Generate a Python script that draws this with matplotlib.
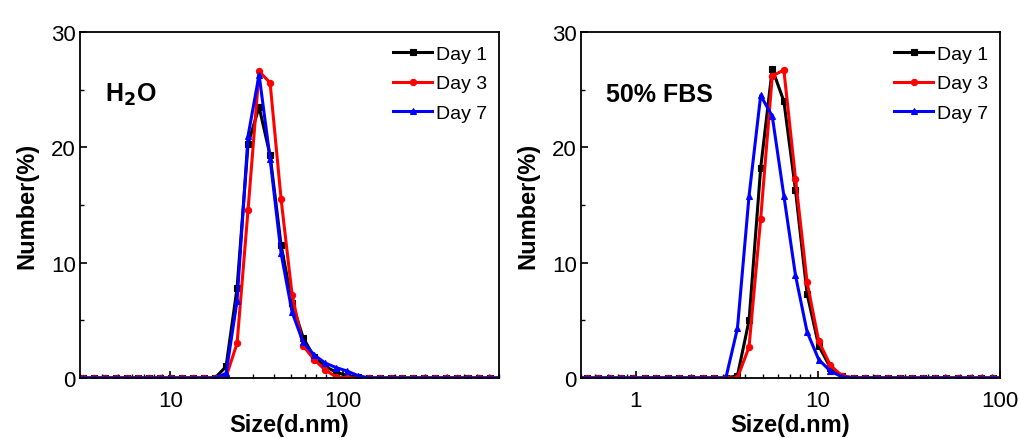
import matplotlib
matplotlib.use("Agg")
import matplotlib.pyplot as plt
from matplotlib.ticker import FixedLocator, NullFormatter, LogLocator

plt.rcParams['font.family'] = ['Liberation Sans', 'DejaVu Sans']

# Malvern size bins (d.nm)
sizes = [0.4, 0.4632, 0.5365, 0.6213, 0.7195, 0.8332, 0.9649, 1.117, 1.294, 1.499,
         1.736, 2.01, 2.328, 2.696, 3.122, 3.615, 4.187, 4.849, 5.615, 6.503,
         7.531, 8.721, 10.1, 11.7, 13.54, 15.69, 18.17, 21.04, 24.36, 28.21,
         32.67, 37.84, 43.82, 50.75, 58.77, 68.06, 78.82, 91.28, 105.7, 122.4,
         141.8, 164.2, 190.1, 220.2, 255.0, 295.3, 342.0, 396.1, 458.7, 531.2,
         615.1, 712.4, 825.0, 955.4, 1106, 1281, 1484, 1718, 1990, 2305,
         2669, 3091, 3580, 4145, 4801, 5560, 6439, 7456, 8635, 10000]

# H2O panel
h2o_day1 = [0, 0, 0, 0, 0, 0, 0, 0, 0, 0,
            0, 0, 0, 0, 0, 0, 0, 0, 0, 0,
            0, 0, 0, 0, 0, 0, 0, 1.0, 7.8, 20.3,
            23.5, 19.3, 11.5, 6.5, 3.5, 1.8, 1.0, 0.5, 0.2, 0.1,
            0, 0, 0, 0, 0, 0, 0, 0, 0, 0,
            0, 0, 0, 0, 0, 0, 0, 0, 0, 0,
            0, 0, 0, 0, 0, 0, 0, 0, 0, 0]
h2o_day3 = [0, 0, 0, 0, 0, 0, 0, 0, 0, 0,
            0, 0, 0, 0, 0, 0, 0, 0, 0, 0,
            0, 0, 0, 0, 0, 0, 0, 0.1, 3.0, 14.6,
            26.6, 25.6, 15.5, 7.2, 2.8, 1.6, 0.7, 0.1, 0, 0,
            0, 0, 0, 0, 0, 0, 0, 0, 0, 0,
            0, 0, 0, 0, 0, 0, 0, 0, 0, 0,
            0, 0, 0, 0, 0, 0, 0, 0, 0, 0]
h2o_day7 = [0, 0, 0, 0, 0, 0, 0, 0, 0, 0,
            0, 0, 0, 0, 0, 0, 0, 0, 0, 0,
            0, 0, 0, 0, 0, 0, 0, 0.4, 6.7, 21.0,
            26.3, 19.0, 10.8, 5.7, 3.1, 2.0, 1.3, 0.9, 0.6, 0.2,
            0, 0, 0, 0, 0, 0, 0, 0, 0, 0,
            0, 0, 0, 0, 0, 0, 0, 0, 0, 0,
            0, 0, 0, 0, 0, 0, 0, 0, 0, 0]

# 50% FBS panel
fbs_day1 = [0, 0, 0, 0, 0, 0, 0, 0, 0, 0,
            0, 0, 0, 0, 0, 0.2, 5.0, 18.2, 26.8, 24.0,
            16.3, 7.3, 2.8, 0.9, 0.2, 0, 0, 0, 0, 0,
            0, 0, 0, 0, 0, 0, 0, 0, 0, 0,
            0, 0, 0, 0, 0, 0, 0, 0, 0, 0,
            0, 0, 0, 0, 0, 0, 0, 0, 0, 0,
            0, 0, 0, 0, 0, 0, 0, 0, 0, 0]
fbs_day3 = [0, 0, 0, 0, 0, 0, 0, 0, 0, 0,
            0, 0, 0, 0, 0, 0, 2.7, 13.8, 26.2, 26.7,
            17.3, 8.3, 3.2, 1.1, 0.2, 0, 0, 0, 0, 0,
            0, 0, 0, 0, 0, 0, 0, 0, 0, 0,
            0, 0, 0, 0, 0, 0, 0, 0, 0, 0,
            0, 0, 0, 0, 0, 0, 0, 0, 0, 0,
            0, 0, 0, 0, 0, 0, 0, 0, 0, 0]
fbs_day7 = [0, 0, 0, 0, 0, 0, 0, 0, 0, 0,
            0, 0, 0, 0, 0, 4.3, 15.8, 24.5, 22.7, 15.8,
            8.9, 4.0, 1.6, 0.6, 0.1, 0, 0, 0, 0, 0,
            0, 0, 0, 0, 0, 0, 0, 0, 0, 0,
            0, 0, 0, 0, 0, 0, 0, 0, 0, 0,
            0, 0, 0, 0, 0, 0, 0, 0, 0, 0,
            0, 0, 0, 0, 0, 0, 0, 0, 0, 0]

labels = ["Day 1", "Day 3", "Day 7"]
colors = ["#000000", "#ff0000", "#0000ff"]
markers = ["s", "o", "^"]

fig = plt.figure(figsize=(10.2, 4.39), dpi=100)
ax1 = fig.add_axes([0.0784, 0.1367, 0.4108, 0.788])
ax2 = fig.add_axes([0.5696, 0.1367, 0.4108, 0.788])

panels = [
    (ax1, [h2o_day1, h2o_day3, h2o_day7], (3.0, 800), "H$_\\mathbf{2}$O", [10, 100], ["10", "100"]),
    (ax2, [fbs_day1, fbs_day3, fbs_day7], (0.5, 100), "50% FBS", [1, 10, 100], ["1", "10", "100"]),
]

for ax, series, xlim, title, xt, xtl in panels:
    for vals, lab, c, m in zip(series, labels, colors, markers):
        ax.plot(sizes, vals, color=c, marker=m, markersize=4.5, linewidth=2.2,
                label=lab, markeredgewidth=0.8)
    ax.set_xscale('log')
    ax.set_xlim(*xlim)
    ax.set_ylim(0, 30)
    ax.xaxis.set_major_locator(FixedLocator(xt))
    ax.set_xticklabels(xtl)
    ax.xaxis.set_minor_locator(LogLocator(base=10, subs=range(2, 10)))
    ax.xaxis.set_minor_formatter(NullFormatter())
    ax.set_yticks([0, 10, 20, 30])
    ax.set_yticks([5, 15, 25], minor=True)
    ax.tick_params(axis='x', which='major', pad=9)
    ax.tick_params(axis='y', which='major', pad=3)
    ax.tick_params(which='major', direction='in', length=5, width=1.2,
                   labelsize=16, top=False, right=False)
    ax.tick_params(which='minor', direction='in', length=3, width=1.0,
                   top=False, right=False)
    for sp in ax.spines.values():
        sp.set_linewidth(1.3)
    ax.set_xlabel("Size(d.nm)", fontsize=17, fontweight='bold', labelpad=1)
    ax.set_ylabel("Number(%)", fontsize=17, fontweight='bold', labelpad=9)
    ax.text(0.06, 0.82, title, transform=ax.transAxes, fontsize=18,
            fontweight='bold', ha='left', va='center')
    ax.legend(loc='upper right', frameon=False, fontsize=14, handlelength=2.0,
              handletextpad=0.2, labelspacing=0.6, borderaxespad=0.2,
              bbox_to_anchor=(1.0, 0.995))

fig.savefig("out.png", dpi=100)
